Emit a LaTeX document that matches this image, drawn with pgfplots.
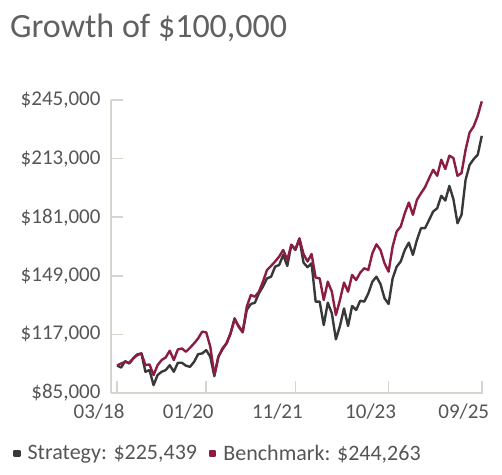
\documentclass[border=0pt]{standalone}
\usepackage{pgfplots}
\pgfplotsset{compat=1.18}
\usepackage{pgfplotstable}
\usepackage{fontspec}
\setmainfont{Carlito}

\definecolor{strat}{HTML}{383838}
\definecolor{bench}{HTML}{8C1D40}
\definecolor{axisgray}{HTML}{D6D4CD}
\definecolor{labelgray}{HTML}{555555}
\definecolor{titlegray}{HTML}{606060}

% month index from 03/18, growth of $100,000
\pgfplotstableread{
m  strategy benchmark
0  100000 100000
1  98900  101100
2  102400 102000
3  101100 101500
4  103900 103900
5  106100 105700
6  106600 106600
7  96600  100200
8  97500  100600
9  89300  94800
10 94800  100200
11 96600  103000
12 97500  104400
13 100200 108100
14 96600  103000
15 101500 108800
16 101500 109300
17 99900  107500
18 99300  109700
19 102000 112100
20 106200 114800
21 106600 118500
22 108400 118100
23 104800 110300
24 94200  94800
25 104800 104800
26 109300 108800
27 112100 112100
28 117500 117500
29 125800 125200
30 121200 121600
31 118100 118500
32 130300 132100
33 133600 138500
34 134300 137600
35 139400 140300
36 143100 145800
37 147600 152200
38 148500 154400
39 154000 156800
40 154900 159500
41 160400 163100
42 154400 157700
43 165900 165900
44 163100 163500
45 169000 169500
46 156200 160900
47 153700 156800
48 155800 160900
49 134900 148000
50 134900 147600
51 122100 135800
52 134300 145800
53 128500 140300
54 114300 127600
55 121600 135800
56 131200 145300
57 121600 140300
58 132500 149500
59 130300 146700
60 135400 150700
61 134900 153100
62 139400 152200
63 145800 161300
64 148500 166200
65 144500 163100
66 136700 155800
67 133600 151300
68 147600 165000
69 154000 173200
70 156800 175900
71 163100 183200
72 167100 189000
73 160400 182300
74 168600 190500
75 175000 194100
76 175000 197400
77 179500 202300
78 184100 206900
79 185900 203600
80 192700 212400
81 190100 207300
82 198100 214600
83 190800 213300
84 177700 203600
85 182300 205100
86 201400 217800
87 209600 227300
88 212700 230600
89 215100 236400
90 225439 244263
}\growth

\begin{document}
\begin{tikzpicture}
\useasboundingbox (0,0) rectangle (502bp,475bp);
\node[anchor=base west, inner sep=0pt, text=titlegray,
      font=\fontsize{34bp}{40bp}\selectfont] at (10bp,437bp) {Growth of \$100,000};
\begin{axis}[
  at={(111bp,82bp)}, anchor=south west,
  scale only axis, width=372bp, height=293bp,
  xmin=-1.5, xmax=90.3,
  ymin=85000, ymax=245000,
  scaled y ticks=false,
  axis x line=bottom, axis y line=left,
  axis line style={-, draw=axisgray, line width=1.8bp},
  tick align=inside,
  major tick length=12bp,
  tick style={draw=axisgray, line width=1.6bp},
  xtick={0,22,44,67,90},
  xticklabels={03/18,01/20,11/21,10/23,09/25},
  ytick={85000,117000,149000,181000,213000,245000},
  yticklabels={{\$85,000},{\$117,000},{\$149,000},{\$181,000},{\$213,000},{\$245,000}},
  ticklabel style={text=labelgray, font=\fontsize{21bp}{25bp}\selectfont},
  xticklabel style={xshift=-18bp, yshift=-7bp},
  yticklabel style={xshift=-7bp},
  legend columns=2,
  legend style={at={(axis description cs:0,0)}, anchor=north west,
    xshift=-101bp, yshift=-48bp, draw=none, fill=none,
    text=labelgray, font=\fontsize{22bp}{26bp}\selectfont,
    /tikz/every odd column/.append style={column sep=5bp},
    /tikz/every even column/.append style={column sep=10bp}},
  legend image code/.code={\fill[#1] (0bp,-2.5bp) rectangle (5bp,2.5bp);},
]
\addplot[strat, line width=2.4bp, line join=round] table[x=m, y=strategy] {\growth};
\addlegendentry{Strategy: \$225,439}
\addplot[bench, line width=2.4bp, line join=round] table[x=m, y=benchmark] {\growth};
\addlegendentry{Benchmark: \$244,263}
\end{axis}
\end{tikzpicture}
\end{document}
